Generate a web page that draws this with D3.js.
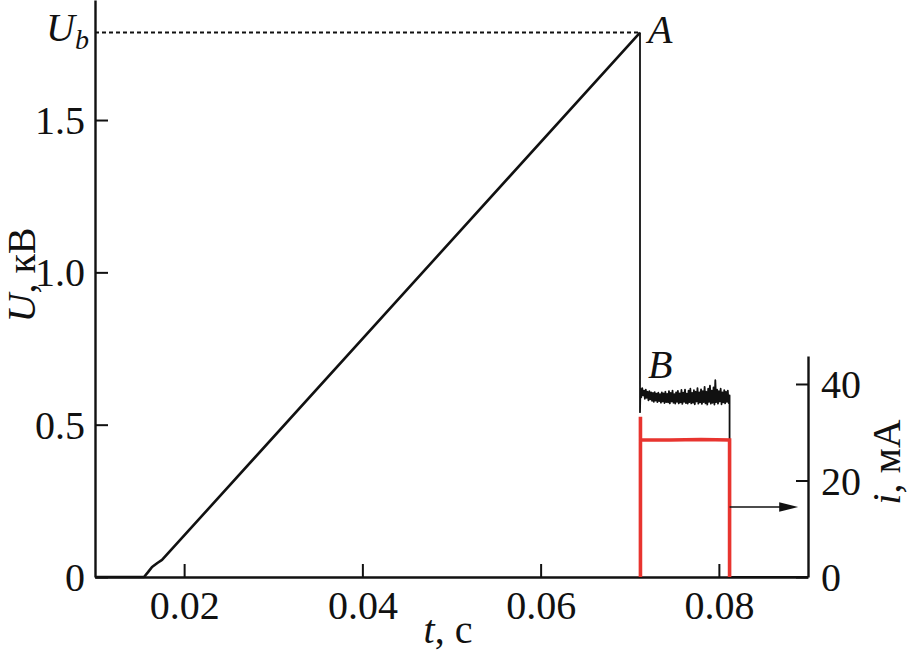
<!DOCTYPE html>
<html><head><meta charset="utf-8">
<script src="https://cdn.jsdelivr.net/npm/d3@7"></script>
<style>
html,body{margin:0;padding:0;background:#fff;}
svg{display:block;}
text{font-family:"Liberation Serif","Times New Roman",serif;fill:#111;}
</style></head>
<body>
<svg id="chart" width="912" height="654"></svg>
<script>
// ---- data ----
const xTicks = [0.02, 0.04, 0.06, 0.08];
const uTicks = [0, 0.5, 1.0, 1.5];
const iTicks = [0, 20, 40];
const Ub = 1.787;

// voltage ramp (kV)
const rampTime = [0.0100, 0.0155, 0.01595, 0.0164, 0.0170, 0.01752, 0.07115];
const rampVolt = [0.000, 0.000, 0.016, 0.033, 0.046, 0.056, 1.787];

// breakdown drop A -> B
const dropTime = [0.07115, 0.07115];
const dropVolt = [1.787, 0.541];

// discharge voltage (noisy plateau after B)
const noiseTime = [
  0.0712,0.0713,0.0714,0.0715,0.0716,0.0717,0.0718,0.0719,0.0720,0.0721,
  0.0722,0.0723,0.0724,0.0725,0.0726,0.0727,0.0728,0.0729,0.0730,0.0731,
  0.0732,0.0733,0.0734,0.0735,0.0736,0.0737,0.0738,0.0739,0.0740,0.0741,
  0.0742,0.0743,0.0744,0.0745,0.0746,0.0747,0.0748,0.0749,0.0750,0.0751,
  0.0752,0.0753,0.0754,0.0755,0.0756,0.0757,0.0758,0.0759,0.0760,0.0761,
  0.0762,0.0763,0.0764,0.0765,0.0766,0.0767,0.0768,0.0769,0.0770,0.0771,
  0.0772,0.0773,0.0774,0.0775,0.0776,0.0777,0.0778,0.0779,0.0780,0.0781,
  0.0782,0.0783,0.0784,0.0785,0.0786,0.0787,0.0788,0.0789,0.0790,0.0791,
  0.0792,0.0793,0.0794,0.0795,0.0796,0.0797,0.0798,0.0799,0.0800,0.0801,
  0.0802,0.0803,0.0804,0.0805,0.0806,0.0807,0.0808,0.0809,0.0810,0.0811,0.0812];
const noiseVolt = [
  0.618,0.590,0.620,0.596,0.612,0.585,0.615,0.588,0.608,0.580,
  0.610,0.583,0.606,0.578,0.604,0.575,0.607,0.579,0.602,0.574,
  0.605,0.577,0.600,0.572,0.606,0.576,0.603,0.571,0.608,0.574,
  0.601,0.573,0.610,0.570,0.604,0.576,0.612,0.572,0.600,0.569,
  0.606,0.575,0.611,0.570,0.603,0.573,0.614,0.568,0.605,0.575,
  0.615,0.571,0.602,0.569,0.612,0.574,0.618,0.570,0.604,0.572,
  0.613,0.567,0.608,0.576,0.620,0.569,0.606,0.573,0.616,0.568,
  0.610,0.574,0.624,0.570,0.608,0.566,0.618,0.575,0.628,0.569,
  0.612,0.572,0.622,0.566,0.646,0.574,0.615,0.569,0.610,0.576,
  0.618,0.567,0.606,0.573,0.613,0.570,0.608,0.575,0.612,0.571,0.596];

// switch-off and tail
const tailTime = [0.0812, 0.0812, 0.0900];
const tailVolt = [0.596, 0.000, 0.000];

// current (mA)
const curTime = [0.0712, 0.0712, 0.0712, 0.0745, 0.0780, 0.0812, 0.0812];
const curVal  = [0, 33.2, 28.4, 28.4, 28.5, 28.4, 0];

// arrow annotation (pointing to current axis)
const arrowTime = [0.0812, 0.0889];
const arrowCur = 14.5;

// ---- scales ----
const svg = d3.select("#chart");
const x = d3.scaleLinear().domain([0.01, 0.09]).range([95, 808]);
const yU = d3.scaleLinear().domain([0, 1.894]).range([577, 0]);
const yI = d3.scaleLinear().domain([0, 45.8]).range([577, 356]);

const FS = 40;

// dashed Ub line
svg.append("line")
  .attr("x1", x(0.01)).attr("x2", x(rampTime[rampTime.length-1]))
  .attr("y1", yU(Ub)).attr("y2", yU(Ub))
  .attr("stroke", "#111").attr("stroke-width", 2)
  .attr("stroke-dasharray", "4,3");

// axes
function styleAxis(g){
  g.selectAll(".domain").attr("stroke", "#111").attr("stroke-width", 2.4);
  g.selectAll(".tick line").attr("stroke", "#111").attr("stroke-width", 2);
  g.selectAll(".tick text").attr("font-size", FS).attr("fill", "#111")
    .style("font-family", '"Liberation Serif","Times New Roman",serif');
}

const gx = svg.append("g").attr("transform", `translate(0,${yU(0)})`)
  .call(d3.axisBottom(x).tickValues(xTicks).tickFormat(d3.format(".2f"))
    .tickSizeInner(-13).tickSizeOuter(0).tickPadding(14));
styleAxis(gx);

const gy = svg.append("g").attr("transform", `translate(${x(0.01)},0)`)
  .call(d3.axisLeft(yU).tickValues(uTicks).tickFormat(d => d === 0 ? "0" : d3.format(".1f")(d))
    .tickSizeInner(-13).tickSizeOuter(0).tickPadding(10));
styleAxis(gy);
gy.selectAll(".tick text").attr("dy", "0.34em");

const gi = svg.append("g").attr("transform", `translate(${x(0.09)},0)`)
  .call(d3.axisRight(yI).tickValues(iTicks).tickFormat(d3.format("d"))
    .tickSizeInner(-12).tickSizeOuter(0).tickPadding(13));
styleAxis(gi);
gi.selectAll(".tick text").attr("dy", "0.34em");

// lines
const lineU = d3.line().x(d => x(d[0])).y(d => yU(d[1]));
const lineI = d3.line().x(d => x(d[0])).y(d => yI(d[1]));

svg.append("path").datum(rampTime.map((t, k) => [t, rampVolt[k]]))
  .attr("d", lineU).attr("fill", "none").attr("stroke", "#111")
  .attr("stroke-width", 2.6).attr("stroke-linejoin", "round");

const restT = dropTime.concat(noiseTime, tailTime);
const restV = dropVolt.concat(noiseVolt, tailVolt);
svg.append("path").datum(restT.map((t, k) => [t, restV[k]]))
  .attr("d", lineU).attr("fill", "none").attr("stroke", "#111")
  .attr("stroke-width", 1.8).attr("stroke-linejoin", "round");

svg.append("path").datum(curTime.map((t, k) => [t, curVal[k]]))
  .attr("d", lineI).attr("fill", "none").attr("stroke", "#e8342f")
  .attr("stroke-width", 3.6).attr("stroke-linejoin", "miter");

// arrow
const ax1 = x(arrowTime[0]), ax2 = x(arrowTime[1]), ay = yI(arrowCur);
svg.append("line").attr("x1", ax1).attr("x2", ax2 - 16).attr("y1", ay).attr("y2", ay)
  .attr("stroke", "#111").attr("stroke-width", 1.6);
svg.append("path")
  .attr("d", `M${ax2},${ay} L${ax2-19},${ay-4.8} L${ax2-19},${ay+4.8} Z`)
  .attr("fill", "#111");

// labels
const ubT = svg.append("text").attr("x", 46).attr("y", yU(Ub) + 8)
  .attr("font-size", FS).attr("font-style", "italic");
ubT.append("tspan").text("U");
ubT.append("tspan").attr("font-size", 28).attr("dy", 8).text("b");

svg.append("text").attr("x", x(0.07115) + 8).attr("y", yU(Ub) + 10)
  .attr("font-size", FS).attr("font-style", "italic").text("A");
svg.append("text").attr("x", x(0.07115) + 8).attr("y", 378)
  .attr("font-size", FS).attr("font-style", "italic").text("B");

// axis titles
const tl = svg.append("text").attr("x", 448).attr("y", 643)
  .attr("text-anchor", "middle").attr("font-size", FS);
tl.append("tspan").attr("font-style", "italic").text("t");
tl.append("tspan").text(", с");

const ul = svg.append("text").attr("transform", "translate(35,275) rotate(-90)")
  .attr("text-anchor", "middle").attr("font-size", FS);
ul.append("tspan").attr("font-style", "italic").text("U");
ul.append("tspan").text(", кВ");

const il = svg.append("text").attr("transform", "translate(900,462) rotate(-90)")
  .attr("text-anchor", "middle").attr("font-size", FS);
il.append("tspan").attr("font-style", "italic").text("i");
il.append("tspan").text(", мА");
</script>
</body></html>
